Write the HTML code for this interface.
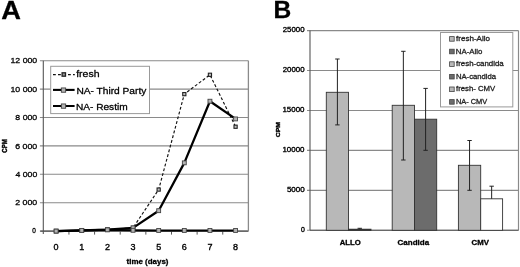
<!DOCTYPE html>
<html><head><meta charset="utf-8"><style>
html,body{margin:0;padding:0;background:#fff;}
svg{display:block;font-family:"Liberation Sans",sans-serif;will-change:transform;}
</style></head><body>
<svg width="520" height="267" viewBox="0 0 520 267">
<rect width="520" height="267" fill="#fff"/>
<line x1="39.90" y1="60.70" x2="248.40" y2="60.70" stroke="#8a8a8a" stroke-width="1.1"/>
<line x1="39.90" y1="89.10" x2="248.40" y2="89.10" stroke="#8a8a8a" stroke-width="1.1"/>
<line x1="39.90" y1="117.50" x2="248.40" y2="117.50" stroke="#8a8a8a" stroke-width="1.1"/>
<line x1="39.90" y1="145.90" x2="248.40" y2="145.90" stroke="#8a8a8a" stroke-width="1.1"/>
<line x1="39.90" y1="174.30" x2="248.40" y2="174.30" stroke="#8a8a8a" stroke-width="1.1"/>
<line x1="39.90" y1="202.70" x2="248.40" y2="202.70" stroke="#8a8a8a" stroke-width="1.1"/>
<line x1="39.90" y1="231.10" x2="248.40" y2="231.10" stroke="#8a8a8a" stroke-width="1.1"/>
<line x1="43.30" y1="60.70" x2="43.30" y2="234.10" stroke="#555" stroke-width="1.1"/>
<line x1="40.30" y1="231.10" x2="248.40" y2="231.10" stroke="#555" stroke-width="1.1"/>
<line x1="248.40" y1="60.70" x2="248.40" y2="231.10" stroke="#8a8a8a" stroke-width="1.3"/>
<line x1="68.94" y1="231.10" x2="68.94" y2="234.60" stroke="#555" stroke-width="1"/>
<line x1="94.58" y1="231.10" x2="94.58" y2="234.60" stroke="#555" stroke-width="1"/>
<line x1="120.21" y1="231.10" x2="120.21" y2="234.60" stroke="#555" stroke-width="1"/>
<line x1="145.85" y1="231.10" x2="145.85" y2="234.60" stroke="#555" stroke-width="1"/>
<line x1="171.49" y1="231.10" x2="171.49" y2="234.60" stroke="#555" stroke-width="1"/>
<line x1="197.12" y1="231.10" x2="197.12" y2="234.60" stroke="#555" stroke-width="1"/>
<line x1="222.76" y1="231.10" x2="222.76" y2="234.60" stroke="#555" stroke-width="1"/>
<text x="56.12" y="250.2" font-size="9" text-anchor="middle" stroke="#000" stroke-width="0.35">0</text>
<text x="81.76" y="250.2" font-size="9" text-anchor="middle" stroke="#000" stroke-width="0.35">1</text>
<text x="107.39" y="250.2" font-size="9" text-anchor="middle" stroke="#000" stroke-width="0.35">2</text>
<text x="133.03" y="250.2" font-size="9" text-anchor="middle" stroke="#000" stroke-width="0.35">3</text>
<text x="158.67" y="250.2" font-size="9" text-anchor="middle" stroke="#000" stroke-width="0.35">5</text>
<text x="184.31" y="250.2" font-size="9" text-anchor="middle" stroke="#000" stroke-width="0.35">6</text>
<text x="209.94" y="250.2" font-size="9" text-anchor="middle" stroke="#000" stroke-width="0.35">7</text>
<text x="235.58" y="250.2" font-size="9" text-anchor="middle" stroke="#000" stroke-width="0.35">8</text>
<polyline points="56.12,231.10 81.76,230.39 107.39,229.68 133.03,227.83 158.67,189.56 184.31,94.14 209.94,74.79 235.58,126.73" fill="none" stroke="#111" stroke-width="1.15" stroke-dasharray="2.9,2.0"/>
<rect x="54.52" y="229.50" width="3.2" height="3.2" fill="#c0c0c0" stroke="#222" stroke-width="1.1"/>
<rect x="80.16" y="228.79" width="3.2" height="3.2" fill="#c0c0c0" stroke="#222" stroke-width="1.1"/>
<rect x="105.79" y="228.08" width="3.2" height="3.2" fill="#c0c0c0" stroke="#222" stroke-width="1.1"/>
<rect x="131.43" y="226.23" width="3.2" height="3.2" fill="#c0c0c0" stroke="#222" stroke-width="1.1"/>
<rect x="157.07" y="187.97" width="3.2" height="3.2" fill="#c0c0c0" stroke="#222" stroke-width="1.1"/>
<rect x="182.71" y="92.54" width="3.2" height="3.2" fill="#c0c0c0" stroke="#222" stroke-width="1.1"/>
<rect x="208.34" y="73.19" width="3.2" height="3.2" fill="#c0c0c0" stroke="#222" stroke-width="1.1"/>
<rect x="233.98" y="125.13" width="3.2" height="3.2" fill="#c0c0c0" stroke="#222" stroke-width="1.1"/>
<polyline points="56.12,231.10 81.76,230.39 107.39,229.68 133.03,227.83 158.67,210.69 184.31,162.85 209.94,101.21 235.58,118.92" fill="none" stroke="#000" stroke-width="2.25" stroke-linejoin="round"/>
<rect x="54.17" y="229.15" width="3.9" height="3.9" fill="#b4b4b4" stroke="#444" stroke-width="0.9"/>
<rect x="79.81" y="228.44" width="3.9" height="3.9" fill="#b4b4b4" stroke="#444" stroke-width="0.9"/>
<rect x="105.44" y="227.73" width="3.9" height="3.9" fill="#b4b4b4" stroke="#444" stroke-width="0.9"/>
<rect x="131.08" y="225.88" width="3.9" height="3.9" fill="#b4b4b4" stroke="#444" stroke-width="0.9"/>
<rect x="156.72" y="208.74" width="3.9" height="3.9" fill="#b4b4b4" stroke="#444" stroke-width="0.9"/>
<rect x="182.36" y="160.90" width="3.9" height="3.9" fill="#b4b4b4" stroke="#444" stroke-width="0.9"/>
<rect x="207.99" y="99.26" width="3.9" height="3.9" fill="#b4b4b4" stroke="#444" stroke-width="0.9"/>
<rect x="233.63" y="116.97" width="3.9" height="3.9" fill="#b4b4b4" stroke="#444" stroke-width="0.9"/>
<polyline points="56.12,231.10 81.76,230.39 107.39,229.82 133.03,230.32 158.67,230.46 184.31,230.46 209.94,230.46 235.58,230.46" fill="none" stroke="#000" stroke-width="2.1" stroke-linejoin="round"/>
<rect x="54.17" y="229.15" width="3.9" height="3.9" fill="#b4b4b4" stroke="#444" stroke-width="0.9"/>
<rect x="79.81" y="228.44" width="3.9" height="3.9" fill="#b4b4b4" stroke="#444" stroke-width="0.9"/>
<rect x="105.44" y="227.87" width="3.9" height="3.9" fill="#b4b4b4" stroke="#444" stroke-width="0.9"/>
<rect x="131.08" y="228.37" width="3.9" height="3.9" fill="#b4b4b4" stroke="#444" stroke-width="0.9"/>
<rect x="156.72" y="228.51" width="3.9" height="3.9" fill="#b4b4b4" stroke="#444" stroke-width="0.9"/>
<rect x="182.36" y="228.51" width="3.9" height="3.9" fill="#b4b4b4" stroke="#444" stroke-width="0.9"/>
<rect x="207.99" y="228.51" width="3.9" height="3.9" fill="#b4b4b4" stroke="#444" stroke-width="0.9"/>
<rect x="233.63" y="228.51" width="3.9" height="3.9" fill="#b4b4b4" stroke="#444" stroke-width="0.9"/>
<rect x="50.7" y="66.3" width="98.8" height="47.3" fill="#fff" stroke="#999" stroke-width="1"/>
<line x1="53" y1="74.7" x2="74.8" y2="74.7" stroke="#111" stroke-width="1.3" stroke-dasharray="2.8,2.2"/>
<rect x="62.10" y="72.80" width="3.4" height="3.4" fill="#999" stroke="#222" stroke-width="1.3"/>
<line x1="53" y1="89.9" x2="74.6" y2="89.9" stroke="#000" stroke-width="2.1"/>
<rect x="61.35" y="87.95" width="4.3" height="4.3" fill="#b4b4b4" stroke="#444" stroke-width="0.9"/>
<line x1="53" y1="106" x2="74.6" y2="106" stroke="#000" stroke-width="2.0"/>
<rect x="61.35" y="103.95" width="4.3" height="4.3" fill="#b4b4b4" stroke="#444" stroke-width="0.9"/>
<line x1="307.00" y1="30.60" x2="518.50" y2="30.60" stroke="#8a8a8a" stroke-width="1.1"/>
<line x1="307.00" y1="70.54" x2="518.50" y2="70.54" stroke="#8a8a8a" stroke-width="1.1"/>
<line x1="307.00" y1="110.48" x2="518.50" y2="110.48" stroke="#8a8a8a" stroke-width="1.1"/>
<line x1="307.00" y1="150.42" x2="518.50" y2="150.42" stroke="#8a8a8a" stroke-width="1.1"/>
<line x1="307.00" y1="190.36" x2="518.50" y2="190.36" stroke="#8a8a8a" stroke-width="1.1"/>
<line x1="307.00" y1="230.30" x2="518.50" y2="230.30" stroke="#8a8a8a" stroke-width="1.1"/>
<line x1="310.00" y1="30.60" x2="310.00" y2="230.30" stroke="#555" stroke-width="1.1"/>
<line x1="518.50" y1="30.60" x2="518.50" y2="230.30" stroke="#8a8a8a" stroke-width="1.2"/>
<line x1="310.00" y1="230.30" x2="518.50" y2="230.30" stroke="#555" stroke-width="1.1"/>
<rect x="326.30" y="92.30" width="22.20" height="138.00" fill="#b8b8b8" stroke="#333" stroke-width="0.9"/>
<rect x="348.50" y="229.20" width="22.50" height="1.10" fill="#222" stroke="#333" stroke-width="0.9"/>
<rect x="392.20" y="105.30" width="22.30" height="125.00" fill="#b8b8b8" stroke="#333" stroke-width="0.9"/>
<rect x="414.50" y="119.20" width="22.20" height="111.10" fill="#6c6c6c" stroke="#333" stroke-width="0.9"/>
<rect x="458.40" y="165.30" width="22.30" height="65.00" fill="#b8b8b8" stroke="#333" stroke-width="0.9"/>
<rect x="480.70" y="198.80" width="21.90" height="31.50" fill="#fff" stroke="#333" stroke-width="0.9"/>
<line x1="337.40" y1="59.00" x2="337.40" y2="124.90" stroke="#222" stroke-width="1"/>
<line x1="335.20" y1="59.00" x2="339.60" y2="59.00" stroke="#222" stroke-width="1"/>
<line x1="335.20" y1="124.90" x2="339.60" y2="124.90" stroke="#222" stroke-width="1"/>
<line x1="359.75" y1="228.30" x2="359.75" y2="229.20" stroke="#222" stroke-width="1"/>
<line x1="357.55" y1="228.30" x2="361.95" y2="228.30" stroke="#222" stroke-width="1"/>
<line x1="403.35" y1="51.30" x2="403.35" y2="160.00" stroke="#222" stroke-width="1"/>
<line x1="401.15" y1="51.30" x2="405.55" y2="51.30" stroke="#222" stroke-width="1"/>
<line x1="401.15" y1="160.00" x2="405.55" y2="160.00" stroke="#222" stroke-width="1"/>
<line x1="425.60" y1="88.40" x2="425.60" y2="150.30" stroke="#222" stroke-width="1"/>
<line x1="423.40" y1="88.40" x2="427.80" y2="88.40" stroke="#222" stroke-width="1"/>
<line x1="423.40" y1="150.30" x2="427.80" y2="150.30" stroke="#222" stroke-width="1"/>
<line x1="469.55" y1="140.50" x2="469.55" y2="190.30" stroke="#222" stroke-width="1"/>
<line x1="467.35" y1="140.50" x2="471.75" y2="140.50" stroke="#222" stroke-width="1"/>
<line x1="467.35" y1="190.30" x2="471.75" y2="190.30" stroke="#222" stroke-width="1"/>
<line x1="491.65" y1="186.20" x2="491.65" y2="198.80" stroke="#222" stroke-width="1"/>
<line x1="489.45" y1="186.20" x2="493.85" y2="186.20" stroke="#222" stroke-width="1"/>
<rect x="440.5" y="32.5" width="72.3" height="74.4" fill="#fff" stroke="#999" stroke-width="1"/>
<rect x="449.6" y="36.60" width="4.6" height="4.6" fill="#b8b8b8" stroke="#444" stroke-width="0.8"/>
<rect x="449.6" y="49.20" width="4.6" height="4.6" fill="#6c6c6c" stroke="#444" stroke-width="0.8"/>
<rect x="449.6" y="61.80" width="4.6" height="4.6" fill="#b8b8b8" stroke="#444" stroke-width="0.8"/>
<rect x="449.6" y="74.40" width="4.6" height="4.6" fill="#6c6c6c" stroke="#444" stroke-width="0.8"/>
<rect x="449.6" y="87.00" width="4.6" height="4.6" fill="#b8b8b8" stroke="#444" stroke-width="0.8"/>
<rect x="449.6" y="99.60" width="4.6" height="4.6" fill="#6c6c6c" stroke="#444" stroke-width="0.8"/>
<text transform="translate(1.182,19.365) scale(0.27273,0.26471)" font-size="100" font-weight="bold" fill="#000" stroke="#000" stroke-width="1.12" stroke-linejoin="round">A</text>
<text transform="translate(126.621,264.381) scale(0.07931,0.07234)" font-size="100" font-weight="bold" fill="#000" stroke="#000" stroke-width="3.96" stroke-linejoin="round">time (days)</text>
<text transform="translate(6.920,152.743) rotate(-90) scale(0.06085,0.08028)" font-size="100" font-weight="bold" fill="#000" stroke="#000" stroke-width="5.72" stroke-linejoin="round">CPM</text>
<text transform="translate(76.195,77.300) scale(0.10512,0.09700)" font-size="100" font-weight="normal" fill="#000" stroke="#000" stroke-width="2.97" stroke-linejoin="round">fresh</text>
<text transform="translate(76.385,93.700) scale(0.10191,0.09700)" font-size="100" font-weight="normal" fill="#000" stroke="#000" stroke-width="3.02" stroke-linejoin="round">NA- Third Party</text>
<text transform="translate(75.889,110.000) scale(0.10141,0.09700)" font-size="100" font-weight="normal" fill="#000" stroke="#000" stroke-width="3.02" stroke-linejoin="round">NA- Restim</text>
<text transform="translate(273.479,17.700) scale(0.24590,0.23913)" font-size="100" font-weight="bold" fill="#000" stroke="#000" stroke-width="1.24" stroke-linejoin="round">B</text>
<text transform="translate(339.769,245.430) scale(0.07698,0.07042)" font-size="100" font-weight="bold" fill="#000" stroke="#000" stroke-width="4.07" stroke-linejoin="round">ALLO</text>
<text transform="translate(397.580,245.228) scale(0.08005,0.07162)" font-size="100" font-weight="bold" fill="#000" stroke="#000" stroke-width="3.96" stroke-linejoin="round">Candida</text>
<text transform="translate(471.588,245.130) scale(0.07788,0.07042)" font-size="100" font-weight="bold" fill="#000" stroke="#000" stroke-width="4.05" stroke-linejoin="round">CMV</text>
<text transform="translate(279.739,137.175) rotate(-90) scale(0.06887,0.06056)" font-size="100" font-weight="bold" fill="#000" stroke="#000" stroke-width="6.97" stroke-linejoin="round">CPM</text>
<text transform="translate(456.019,41.128) scale(0.08058,0.07162)" font-size="100" font-weight="normal" fill="#222" stroke="#222" stroke-width="3.95" stroke-linejoin="round">fresh-Allo</text>
<text transform="translate(455.874,54.132) scale(0.07829,0.06757)" font-size="100" font-weight="normal" fill="#222" stroke="#222" stroke-width="4.12" stroke-linejoin="round">NA-Allo</text>
<text transform="translate(456.021,65.928) scale(0.07884,0.07162)" font-size="100" font-weight="normal" fill="#222" stroke="#222" stroke-width="3.99" stroke-linejoin="round">fresh-candida</text>
<text transform="translate(455.883,78.826) scale(0.07709,0.07432)" font-size="100" font-weight="normal" fill="#222" stroke="#222" stroke-width="3.96" stroke-linejoin="round">NA-candida</text>
<text transform="translate(456.022,91.126) scale(0.07758,0.07432)" font-size="100" font-weight="normal" fill="#222" stroke="#222" stroke-width="3.95" stroke-linejoin="round">fresh- CMV</text>
<text transform="translate(455.907,104.130) scale(0.07415,0.07042)" font-size="100" font-weight="normal" fill="#222" stroke="#222" stroke-width="4.15" stroke-linejoin="round">NA- CMV</text>
<text transform="translate(32.242,233.428) scale(0.06458,0.07183)" font-size="100" font-weight="normal" fill="#000" stroke="#000" stroke-width="4.40" stroke-linejoin="round">0</text>
<text transform="translate(15.260,205.423) scale(0.08797,0.07746)" font-size="100" font-weight="normal" fill="#000" stroke="#000" stroke-width="3.63" stroke-linejoin="round">2 000</text>
<text transform="translate(15.526,177.023) scale(0.08689,0.07746)" font-size="100" font-weight="normal" fill="#000" stroke="#000" stroke-width="3.66" stroke-linejoin="round">4 000</text>
<text transform="translate(15.260,148.623) scale(0.08797,0.07746)" font-size="100" font-weight="normal" fill="#000" stroke="#000" stroke-width="3.63" stroke-linejoin="round">6 000</text>
<text transform="translate(15.350,120.223) scale(0.08760,0.07746)" font-size="100" font-weight="normal" fill="#000" stroke="#000" stroke-width="3.64" stroke-linejoin="round">8 000</text>
<text transform="translate(10.501,91.823) scale(0.08741,0.07746)" font-size="100" font-weight="normal" fill="#000" stroke="#000" stroke-width="3.65" stroke-linejoin="round">10 000</text>
<text transform="translate(10.501,63.423) scale(0.08741,0.07746)" font-size="100" font-weight="normal" fill="#000" stroke="#000" stroke-width="3.65" stroke-linejoin="round">12 000</text>
<text transform="translate(300.925,231.835) scale(0.06875,0.06479)" font-size="100" font-weight="normal" fill="#000" stroke="#000" stroke-width="5.24" stroke-linejoin="round">0</text>
<text transform="translate(286.879,191.894) scale(0.08037,0.06620)" font-size="100" font-weight="normal" fill="#000" stroke="#000" stroke-width="4.80" stroke-linejoin="round">5000</text>
<text transform="translate(282.465,151.954) scale(0.07932,0.06620)" font-size="100" font-weight="normal" fill="#000" stroke="#000" stroke-width="4.83" stroke-linejoin="round">10000</text>
<text transform="translate(282.465,112.014) scale(0.07932,0.06620)" font-size="100" font-weight="normal" fill="#000" stroke="#000" stroke-width="4.83" stroke-linejoin="round">15000</text>
<text transform="translate(282.708,72.074) scale(0.07844,0.06620)" font-size="100" font-weight="normal" fill="#000" stroke="#000" stroke-width="4.86" stroke-linejoin="round">20000</text>
<text transform="translate(282.708,32.134) scale(0.07844,0.06620)" font-size="100" font-weight="normal" fill="#000" stroke="#000" stroke-width="4.86" stroke-linejoin="round">25000</text>
</svg>
</body></html>
